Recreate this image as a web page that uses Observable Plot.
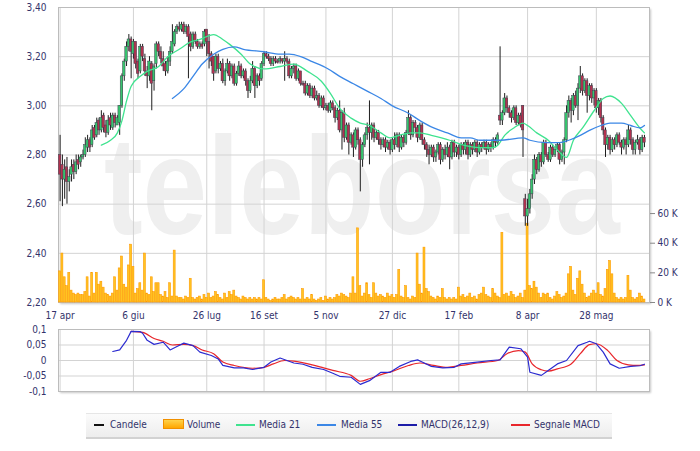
<!DOCTYPE html>
<html><head><meta charset="utf-8">
<script src="https://cdn.jsdelivr.net/npm/d3@7"></script>
<script src="https://cdn.jsdelivr.net/npm/@observablehq/plot@0.6"></script>
<style>
html,body{margin:0;padding:0;background:#fff;}
#wrap{position:relative;width:700px;height:451px;overflow:hidden;background:#fff;font-family:"DejaVu Sans Condensed","DejaVu Sans",Verdana,sans-serif;}
.shadow{position:absolute;background:#fff;box-shadow:2px 2px 2px rgba(0,0,0,0.22);}
.legend{position:absolute;left:86px;top:413px;width:526px;height:23px;background:linear-gradient(#fbfbfb,#ededed);border-top:1px solid #e6e6e6;border-bottom:2px solid #d2d2d2;}
.lt{position:absolute;top:413px;height:24px;line-height:24px;font-size:10px;color:#33336b;white-space:nowrap;}
.ls{position:absolute;top:424px;height:2px;}
</style></head><body><div id="wrap"></div>
<script>
// ---- data ----
const dateLabels = ["17 apr","6 giu","26 lug","16 set","5 nov","27 dic","17 feb","8 apr","28 mag"];
const dateIdx = [0,32,64,89,116,145,174,204,234];
const priceTicks = [2.2,2.4,2.6,2.8,3.0,3.2,3.4];
const volTicks = [0,20,40,60];
const macdTicks = [-0.1,-0.05,0,0.05,0.1];

const opens = [
2.80,2.76,2.70,2.75,2.69,2.72,2.76,2.73,2.78,2.77,2.79,2.80,2.83,2.86,2.84,2.91,
2.88,2.94,2.90,2.96,2.92,2.89,2.95,2.91,2.96,2.92,2.93,3.00,3.12,3.18,3.24,3.27,
3.21,3.26,3.18,3.14,3.24,3.19,3.14,3.12,3.17,3.10,3.17,3.25,3.22,3.19,3.17,3.14,
3.18,3.22,3.25,3.30,3.32,3.31,3.33,3.30,3.32,3.29,3.24,3.29,3.26,3.24,3.25,3.25,
3.31,3.26,3.21,3.20,3.14,3.20,3.15,3.17,3.10,3.14,3.17,3.12,3.16,3.09,3.13,3.16,
3.12,3.14,3.10,3.06,3.10,3.15,3.08,3.12,3.11,3.17,3.21,3.20,3.19,3.17,3.19,3.18,
3.18,3.19,3.18,3.19,3.18,3.12,3.15,3.16,3.11,3.14,3.09,3.09,3.05,3.08,3.04,3.07,
3.03,3.04,3.00,3.03,2.99,3.00,2.98,3.01,2.99,2.95,2.98,2.90,2.97,2.87,2.92,2.85,
2.88,2.83,2.90,2.86,2.78,2.84,2.88,2.91,2.89,2.92,2.87,2.89,2.86,2.84,2.86,2.83,
2.85,2.82,2.86,2.84,2.88,2.83,2.87,2.85,2.89,2.95,2.88,2.93,2.91,2.87,2.92,2.86,
2.84,2.82,2.80,2.83,2.79,2.81,2.84,2.78,2.82,2.80,2.83,2.79,2.85,2.81,2.83,2.80,
2.84,2.82,2.85,2.80,2.84,2.82,2.85,2.81,2.84,2.83,2.85,2.82,2.84,2.83,2.86,2.85,
2.96,2.94,2.97,3.03,2.99,2.97,2.95,2.99,2.93,2.96,3.00,2.62,2.55,2.58,2.64,2.70,
2.78,2.74,2.80,2.77,2.85,2.80,2.78,2.83,2.80,2.82,2.84,2.78,2.81,2.86,2.97,3.02,
2.98,3.04,3.00,3.07,3.12,3.06,3.10,3.04,3.08,3.03,3.06,2.99,3.02,2.95,2.90,2.84,
2.87,2.82,2.86,2.84,2.88,2.85,2.83,2.86,2.84,2.90,2.86,2.82,2.85,2.86,2.82,2.87];
const closes = [
2.72,2.70,2.74,2.69,2.71,2.75,2.73,2.77,2.76,2.79,2.80,2.84,2.86,2.83,2.90,2.87,
2.93,2.90,2.95,2.91,2.89,2.94,2.92,2.96,2.93,2.95,3.00,3.12,3.18,3.24,3.27,3.22,
3.26,3.17,3.13,3.24,3.20,3.14,3.12,3.18,3.09,3.16,3.25,3.22,3.19,3.16,3.14,3.18,
3.22,3.26,3.30,3.32,3.31,3.33,3.30,3.32,3.28,3.24,3.29,3.26,3.24,3.25,3.24,3.30,
3.26,3.21,3.18,3.13,3.20,3.15,3.17,3.10,3.14,3.17,3.12,3.16,3.09,3.13,3.16,3.12,
3.14,3.10,3.06,3.10,3.15,3.08,3.12,3.10,3.17,3.21,3.20,3.19,3.17,3.19,3.18,3.175,
3.19,3.18,3.19,3.18,3.12,3.15,3.16,3.11,3.14,3.09,3.085,3.05,3.08,3.04,3.07,3.03,
3.04,3.00,3.03,2.99,3.00,2.98,3.01,2.99,2.95,2.98,2.90,2.97,2.87,2.92,2.85,2.88,
2.83,2.90,2.86,2.78,2.84,2.88,2.91,2.89,2.92,2.87,2.89,2.86,2.84,2.86,2.83,2.85,
2.82,2.86,2.84,2.88,2.83,2.87,2.85,2.89,2.95,2.88,2.93,2.91,2.87,2.92,2.86,2.84,
2.82,2.80,2.83,2.79,2.81,2.84,2.78,2.82,2.80,2.83,2.79,2.85,2.81,2.83,2.80,2.84,
2.82,2.85,2.80,2.84,2.82,2.85,2.81,2.84,2.83,2.85,2.82,2.84,2.83,2.86,2.85,2.88,
2.94,2.97,3.03,2.99,2.97,2.95,2.99,2.93,2.96,2.92,2.90,2.55,2.58,2.64,2.70,2.78,
2.74,2.80,2.77,2.85,2.80,2.78,2.83,2.80,2.82,2.84,2.78,2.81,2.86,2.97,3.02,2.98,
3.04,3.00,3.07,3.12,3.06,3.10,3.04,3.08,3.03,3.06,2.99,3.02,2.95,2.90,2.84,2.87,
2.82,2.86,2.84,2.88,2.85,2.83,2.86,2.84,2.90,2.86,2.82,2.85,2.86,2.82,2.87,2.85];
const highs = [
2.88,2.80,2.78,2.79,2.74,2.78,2.78,2.80,2.80,2.80,2.82,2.87,2.88,2.87,2.92,2.92,
2.95,2.95,2.98,2.97,2.94,2.96,2.97,2.97,2.97,2.96,3.00,3.13,3.19,3.26,3.29,3.28,
3.27,3.26,3.19,3.25,3.25,3.21,3.16,3.20,3.18,3.17,3.26,3.26,3.24,3.22,3.18,3.20,
3.24,3.33,3.31,3.33,3.34,3.34,3.34,3.33,3.33,3.30,3.30,3.30,3.27,3.26,3.26,3.31,
3.31,3.29,3.22,3.20,3.21,3.21,3.18,3.19,3.15,3.19,3.18,3.17,3.17,3.14,3.18,3.17,
3.15,3.15,3.11,3.12,3.18,3.16,3.13,3.13,3.18,3.22,3.22,3.21,3.20,3.20,3.20,3.19,
3.20,3.19,3.22,3.20,3.19,3.16,3.17,3.17,3.15,3.14,3.10,3.10,3.09,3.09,3.08,3.08,
3.06,3.05,3.04,3.04,3.01,3.01,3.02,3.02,3.00,2.99,3.02,2.98,2.99,2.93,2.93,2.89,
2.89,2.91,2.91,2.87,2.85,2.89,2.93,3.02,2.93,2.93,2.90,2.90,2.87,2.87,2.87,2.86,
2.86,2.87,2.89,2.89,2.89,2.88,2.88,2.90,2.98,2.96,2.94,2.94,2.92,2.93,2.93,2.87,
2.85,2.84,2.84,2.84,2.82,2.85,2.85,2.83,2.84,2.85,2.84,2.86,2.86,2.84,2.84,2.85,
2.85,2.86,2.86,2.85,2.85,2.86,2.86,2.85,2.85,2.86,2.86,2.85,2.85,2.87,2.87,2.89,
3.24,2.98,3.05,3.04,3.00,2.98,3.00,3.00,2.97,2.97,3.00,2.64,2.62,2.66,2.72,2.80,
2.79,2.81,2.81,2.86,2.86,2.81,2.84,2.84,2.83,2.85,2.85,2.82,2.87,3.00,3.04,3.03,
3.05,3.06,3.09,3.16,3.13,3.11,3.11,3.09,3.09,3.07,3.07,3.03,3.03,2.96,2.91,2.88,
2.88,2.87,2.87,2.89,2.89,2.86,2.87,2.87,2.92,2.91,2.87,2.86,2.88,2.87,2.88,2.88];
const lows = [
2.61,2.59,2.62,2.60,2.65,2.69,2.70,2.72,2.74,2.75,2.78,2.79,2.81,2.81,2.83,2.86,
2.87,2.88,2.89,2.89,2.87,2.88,2.90,2.90,2.91,2.92,2.88,2.99,3.10,3.16,3.22,3.11,
3.19,3.15,3.11,3.13,3.18,3.12,3.07,3.10,2.98,3.06,3.15,3.20,3.17,3.14,3.12,3.13,
3.16,3.21,3.24,3.29,3.30,3.30,3.29,3.29,3.11,3.22,3.23,3.25,3.23,3.23,3.23,3.24,
3.20,3.15,3.16,3.10,3.13,3.13,3.14,3.09,3.08,3.13,3.10,3.11,3.08,3.08,3.12,3.11,
3.11,3.08,3.03,3.05,3.09,3.03,3.07,3.08,3.10,3.16,3.19,3.18,3.16,3.16,3.17,3.17,
3.17,3.17,3.10,3.17,3.11,3.11,3.13,3.10,3.10,3.08,3.08,3.04,3.04,3.03,3.03,3.02,
3.02,2.99,2.99,2.98,2.98,2.97,2.97,2.98,2.93,2.94,2.89,2.82,2.85,2.86,2.80,2.84,
2.79,2.82,2.84,2.65,2.75,2.83,2.86,2.76,2.86,2.85,2.86,2.84,2.82,2.83,2.81,2.82,
2.80,2.81,2.82,2.83,2.81,2.82,2.83,2.84,2.88,2.86,2.87,2.89,2.85,2.86,2.84,2.82,
2.79,2.76,2.79,2.77,2.77,2.80,2.76,2.77,2.78,2.79,2.74,2.78,2.79,2.79,2.78,2.79,
2.80,2.80,2.78,2.79,2.80,2.81,2.79,2.80,2.81,2.82,2.80,2.81,2.81,2.82,2.83,2.84,
2.92,2.92,2.96,2.97,2.95,2.93,2.94,2.92,2.92,2.91,2.79,2.51,2.51,2.56,2.62,2.68,
2.72,2.73,2.75,2.76,2.79,2.77,2.77,2.79,2.79,2.81,2.76,2.77,2.76,2.85,2.95,2.93,
2.96,2.99,2.94,3.05,3.04,3.05,2.97,3.02,3.01,3.00,2.97,2.96,2.93,2.88,2.79,2.82,
2.80,2.81,2.82,2.83,2.84,2.80,2.82,2.80,2.83,2.84,2.80,2.80,2.84,2.80,2.81,2.83];
const volumesK = [
21,33,17,11,20,8,6,5,6,5,5,7,17,4,20,6,
20,12,14,10,6,5,4,6,17,8,23,31,12,10,25,39,
24,6,9,13,8,33,6,5,17,7,13,13,5,4,7,3,
13,4,35,4,3,3,2,4,3,16,3,2,3,4,2,5,
3,6,3,4,7,5,3,2,6,3,7,5,8,4,3,2,
4,3,2,3,2,3,2,3,2,15,3,2,1,2,3,2,
2,3,5,2,3,4,3,2,3,2,9,2,3,2,5,2,
1,2,3,1,4,2,3,2,3,5,4,6,5,4,3,6,
17,6,50,11,4,6,13,5,3,13,6,4,5,4,3,6,
4,5,3,5,22,4,3,11,3,2,4,3,33,12,6,37,
9,7,4,3,2,4,3,9,3,2,3,2,3,2,10,4,
5,3,4,6,3,4,2,5,6,10,5,4,3,9,6,4,
3,47,5,6,4,7,5,3,4,6,3,8,53,11,9,14,
10,6,3,6,5,6,3,2,4,7,5,3,4,6,19,24,
8,5,16,21,12,6,3,4,6,8,6,13,5,4,9,22,
28,19,6,3,2,3,2,3,18,8,3,2,3,6,4,2];

const ma21I = [18,22,25,27,29,31,35,38,43,47,52,57,61,67,71,74,79,83,89,96,102,108,114,118,122,127,131,135,140,144,148,153,157,162,170,176,183,189,191,194,198,202,204,208,213,217,221,224,228,233,237,240,245,249,253,255];
const ma21V = [2.84,2.86,2.89,2.94,3.02,3.08,3.12,3.14,3.16,3.20,3.23,3.26,3.27,3.29,3.27,3.25,3.21,3.17,3.15,3.16,3.17,3.14,3.10,3.05,2.99,2.95,2.93,2.92,2.89,2.87,2.88,2.89,2.89,2.88,2.86,2.84,2.83,2.83,2.84,2.88,2.91,2.93,2.92,2.89,2.86,2.82,2.79,2.86,2.91,2.98,3.03,3.04,3.01,2.96,2.91,2.89];
const ma55I = [49,54,58,62,67,71,76,80,89,96,100,105,110,117,122,128,134,140,145,152,157,163,169,175,179,183,188,192,202,205,212,218,222,227,231,236,240,245,249,253,255];
const ma55V = [3.03,3.07,3.12,3.17,3.21,3.23,3.24,3.23,3.22,3.21,3.21,3.20,3.18,3.15,3.12,3.09,3.06,3.03,3.00,2.97,2.94,2.91,2.89,2.87,2.87,2.86,2.86,2.86,2.87,2.86,2.85,2.85,2.86,2.88,2.90,2.92,2.93,2.93,2.92,2.91,2.92];
const macdI = [23,26,29,31,35,36,38,41,45,48,51,54,58,61,66,69,71,76,80,84,89,92,96,99,102,106,110,115,119,122,127,131,135,140,144,148,153,156,158,162,167,172,175,182,188,192,196,201,204,205,210,213,217,221,226,230,231,234,237,240,244,249,253,255];
const macdV = [0.029,0.034,0.065,0.094,0.093,0.088,0.065,0.052,0.059,0.034,0.045,0.056,0.048,0.027,0.016,0.005,-0.016,-0.024,-0.024,-0.029,-0.022,-0.005,0.008,0.000,-0.008,-0.012,-0.022,-0.029,-0.041,-0.051,-0.054,-0.077,-0.065,-0.038,-0.038,-0.019,-0.003,0.002,-0.005,-0.019,-0.024,-0.022,-0.011,-0.005,0.000,0.002,0.043,0.038,0.011,-0.038,-0.048,-0.032,-0.011,0.000,0.048,0.059,0.062,0.054,0.027,-0.011,-0.025,-0.019,-0.017,-0.012];
const signalI = [31,36,41,45,49,54,58,62,67,71,76,84,89,93,98,102,110,115,119,127,131,135,141,145,152,157,163,169,175,182,191,195,200,203,206,210,213,217,223,227,231,234,239,243,248,252,255];
const signalV = [0.094,0.091,0.071,0.062,0.050,0.052,0.048,0.034,0.022,-0.005,-0.016,-0.025,-0.022,-0.011,0.000,-0.002,-0.014,-0.024,-0.032,-0.048,-0.067,-0.059,-0.043,-0.035,-0.016,-0.008,-0.016,-0.022,-0.016,-0.008,0.000,0.022,0.032,0.027,-0.011,-0.030,-0.034,-0.027,-0.011,0.022,0.051,0.054,0.032,0.000,-0.014,-0.016,-0.014];

// ---- drawing ----
const wrap = document.getElementById("wrap");
const idx = d3.range(closes.length);
const labelOf = new Map(dateIdx.map((d, k) => [d, dateLabels[k]]));
const xDomain = [-0.7, 257.2];
const txt = "#33336b", gridC = "#d3d3d3", frameC = "#bcbcbc";
const font = "'DejaVu Sans Condensed', 'DejaVu Sans', Verdana, sans-serif";
const sty = {background: "transparent", fontFamily: font, fontSize: "10px", color: txt, overflow: "visible"};
const main = {width: 700, height: 322, marginLeft: 58, marginRight: 51, marginTop: 7, marginBottom: 20, style: sty};
const fmtP = d => d.toFixed(2).replace(".", ",");

function place(el, top) {
  el.style.position = "absolute"; el.style.left = "0px"; el.style.top = top + "px";
  wrap.appendChild(el);
}
function shadowBox(l, t, w, h) {
  const d = document.createElement("div"); d.className = "shadow";
  d.style.left = l + "px"; d.style.top = t + "px"; d.style.width = w + "px"; d.style.height = h + "px";
  wrap.appendChild(d);
}
shadowBox(58, 7, 591, 295);
shadowBox(58, 329, 591, 62);

// watermark (background decoration)
const wm = d3.create("svg").attr("width", 700).attr("height", 322);
wm.append("text").attr("transform", "translate(104,234) scale(1,1.2)")
  .attr("font-family", "'Liberation Sans', Arial, sans-serif").attr("font-weight", "bold")
  .attr("font-size", 116).attr("fill", "#efefef").text("teleborsa");
place(wm.node(), 0);

// base: grid, axes, frame
place(Plot.plot({
  ...main,
  x: {domain: xDomain, axis: null},
  y: {domain: [2.2, 3.4], axis: null},
  marks: [
    Plot.gridX(dateIdx, {stroke: gridC, strokeOpacity: 1}),
    Plot.gridY(priceTicks, {stroke: gridC, strokeOpacity: 1}),
    Plot.axisX(dateIdx, {tickSize: 0, tickPadding: 9, tickFormat: d => labelOf.get(d), fill: txt}),
    Plot.axisY(priceTicks, {tickSize: 0, tickPadding: 12, tickFormat: fmtP, fill: txt}),
    Plot.frame({stroke: frameC})
  ]
}), 0);

// volume
place(Plot.plot({
  ...main,
  x: {domain: xDomain, axis: null},
  y: {domain: [0, 199], axis: null},
  marks: [
    Plot.rect(idx, {x1: i => i - 0.42, x2: i => i + 0.42, y1: 0, y2: i => volumesK[i], fill: "#ffc522", stroke: "#ff9a00", strokeWidth: 0.6}),
    Plot.axisY(volTicks, {anchor: "right", tickSize: 5, tickPadding: 3, tickFormat: d => d + " K", stroke: "#888", fill: txt})
  ]
}), 0);

// candles + moving averages
place(Plot.plot({
  ...main,
  x: {domain: xDomain, axis: null},
  y: {domain: [2.2, 3.4], axis: null},
  color: {type: "identity"},
  marks: [
    Plot.ruleX(idx, {x: i => i, y1: i => lows[i], y2: i => highs[i], stroke: "#1e1e1e", strokeWidth: 1}),
    Plot.rect(idx, {x1: i => i - 0.55, x2: i => i + 0.55, y1: i => opens[i], y2: i => closes[i],
      fill: i => closes[i] >= opens[i] ? "#37c46e" : "#b3324f", stroke: "#404050", strokeWidth: 0.5}),
    Plot.line(ma21V, {x: (d, k) => ma21I[k], y: d => d, stroke: "#3fe38f", strokeWidth: 1.3, curve: "monotone-x"}),
    Plot.line(ma55V, {x: (d, k) => ma55I[k], y: d => d, stroke: "#3b87e6", strokeWidth: 1.3, curve: "monotone-x"})
  ]
}), 0);

// MACD panel
place(Plot.plot({
  width: 700, height: 78, marginLeft: 58, marginRight: 51, marginTop: 7, marginBottom: 9, style: sty,
  x: {domain: xDomain, axis: null},
  y: {domain: [-0.1, 0.1], axis: null},
  marks: [
    Plot.gridX(dateIdx, {stroke: gridC, strokeOpacity: 1}),
    Plot.gridY(macdTicks, {stroke: gridC, strokeOpacity: 1}),
    Plot.axisY(macdTicks, {tickSize: 0, tickPadding: 12, tickFormat: d => String(d).replace(".", ","), fill: txt}),
    Plot.frame({stroke: frameC}),
    Plot.line(signalV, {x: (d, k) => signalI[k], y: d => d, stroke: "#e8262b", strokeWidth: 1.2, curve: "monotone-x"}),
    Plot.line(macdV, {x: (d, k) => macdI[k], y: d => d, stroke: "#2b2bd0", strokeWidth: 1.2})
  ]
}), 322);

// legend
const legendItems = [
  {label: "Candele", color: "#111", kind: "line", sx: 94, sw: 10, tx: 110},
  {label: "Volume", color: "#ffbb11", kind: "box", sx: 163, sw: 19, tx: 187},
  {label: "Media 21", color: "#3fe38f", kind: "line", sx: 236, sw: 19, tx: 259},
  {label: "Media 55", color: "#3b87e6", kind: "line", sx: 317, sw: 19, tx: 341},
  {label: "MACD(26,12,9)", color: "#1d1da8", kind: "line", sx: 398, sw: 19, tx: 421},
  {label: "Segnale MACD", color: "#e8262b", kind: "line", sx: 511, sw: 19, tx: 534}
];
const box = document.createElement("div"); box.className = "legend"; wrap.appendChild(box);
for (const it of legendItems) {
  const s = document.createElement("div");
  s.className = "ls";
  s.style.left = it.sx + "px"; s.style.width = it.sw + "px"; s.style.background = it.color;
  if (it.kind === "box") {
    s.style.top = "419px"; s.style.height = "8px";
    s.style.background = "linear-gradient(#ffd24a,#ffa600)"; s.style.border = "1px solid #f09000";
  }
  wrap.appendChild(s);
  const t = document.createElement("div");
  t.className = "lt"; t.style.left = it.tx + "px"; t.textContent = it.label;
  wrap.appendChild(t);
}
</script></body></html>
